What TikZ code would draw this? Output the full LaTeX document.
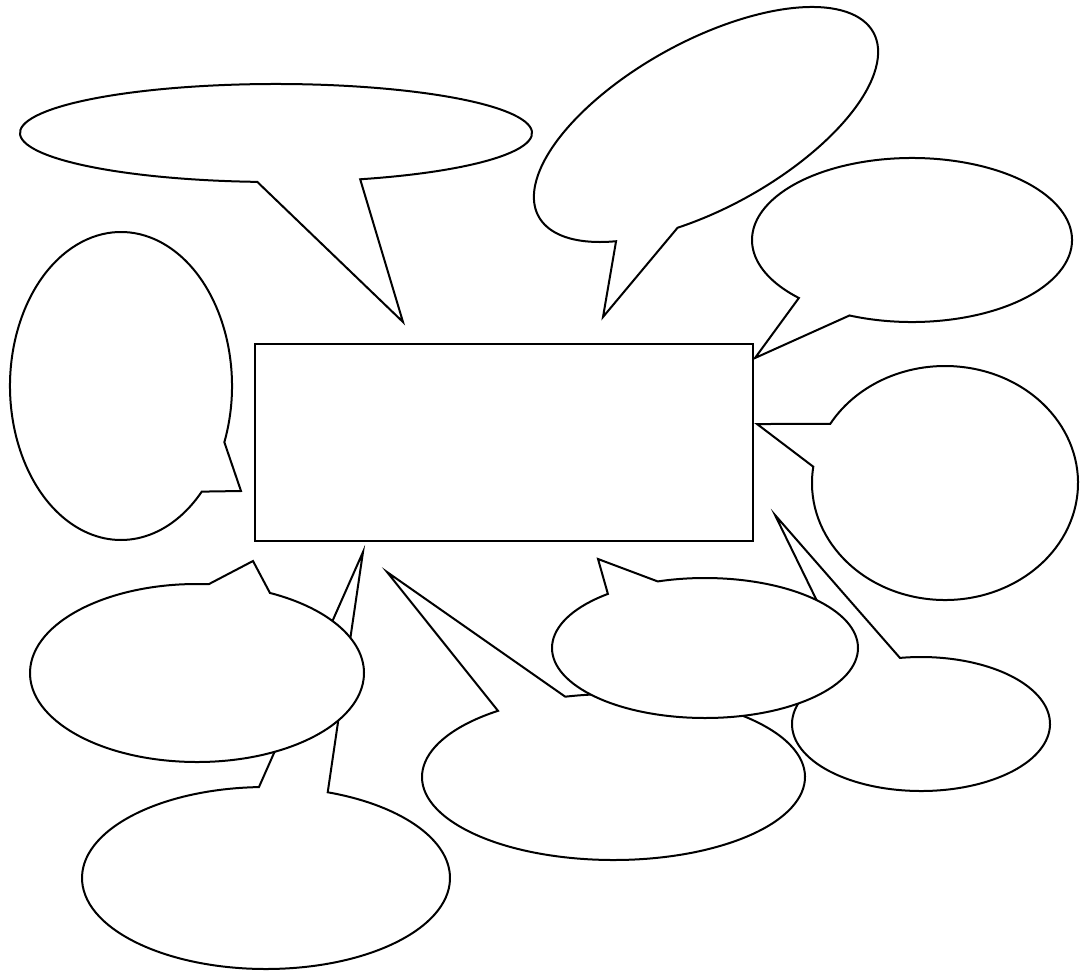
\documentclass[tikz,border=0pt]{standalone}
\usetikzlibrary{calc}
\tikzset{
  bubble/.style={draw=black, fill=white, line width=2pt, line join=miter},
  centerbox/.style={draw=black, fill=white, line width=2.2pt}
}
% #1 cx, #2 cy, #3 rx, #4 ry, #5 rotation, #6 start angle, #7 end angle, #8 tip name
\newcommand\speechbubble[8]{%
  \begin{scope}[shift={(#1,#2)},rotate=#5]
    \draw[bubble] (#6:#3pt and #4pt)
      arc[start angle=#6,end angle=#7,x radius=#3pt,y radius=#4pt]
      -- (#8) -- cycle;
  \end{scope}}
\begin{document}
\begin{tikzpicture}[x=1pt,y=1pt]
\useasboundingbox (0,0) rectangle (1081,-974);
% tips of the speech bubbles
\coordinate (t1) at (403,-322);
\coordinate (t2) at (603,-317);
\coordinate (t3) at (755,-358);
\coordinate (t4) at (757,-424);
\coordinate (t5) at (241,-491);
\coordinate (t6) at (253,-561);
\coordinate (t7) at (363,-552);
\coordinate (t8) at (387,-572);
\coordinate (t9) at (598,-559);
\coordinate (t10) at (775,-515);
% central box
\node[centerbox, anchor=north west, minimum width=498pt, minimum height=197pt, inner sep=0pt] (box) at (254,-343) {};
% bubbles
\speechbubble{276}{-133}{256}{49}{0}{-70.8}{265.8}{t1}
\speechbubble{706}{-124.5}{191}{83.4}{28.8}{247}{585}{t2}
\speechbubble{912}{-240}{160}{82}{0}{247}{585}{t3}
\speechbubble{945}{-483}{133}{117}{0}{172}{509.7}{t4}
\speechbubble{121}{-386}{111}{154}{0}{-21.4}{316.7}{t5}
\speechbubble{266}{-878}{184}{91}{0}{92.2}{430.4}{t7}
\speechbubble{197}{-673}{167}{89}{0}{86}{424.1}{t6}
\speechbubble{613.5}{-777}{191.5}{83}{0}{127.1}{464.6}{t8}
\speechbubble{921}{-724}{129}{67}{0}{123.5}{459.4}{t10}
\speechbubble{705}{-648}{153}{70}{0}{129.4}{468}{t9}
\end{tikzpicture}
\end{document}
